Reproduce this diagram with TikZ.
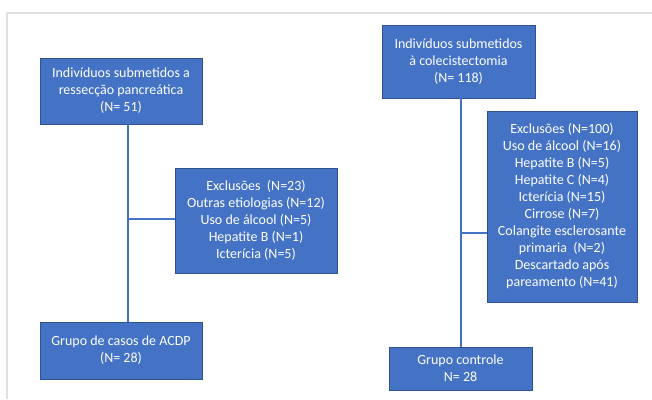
\documentclass[tikz,border=0pt]{standalone}
\usepackage{fontspec}
\setmainfont{Carlito}
\usetikzlibrary{arrows.meta}
\definecolor{boxblue}{HTML}{4472C4}
\definecolor{boxedge}{HTML}{2F528F}
\begin{document}
\begin{tikzpicture}[x=1pt,y=-1pt,
  flowbox/.style={draw=boxedge,fill=boxblue,text=white,align=center,
    inner sep=0pt,font=\fontsize{14}{17}\selectfont},
  link/.style={draw=boxblue,line width=2.4pt}]
 \useasboundingbox (0,0) rectangle (652,399);
 \draw[black!12,line width=2pt] (7,399) -- (7,13) -- (652,13);
 % left branch
 \node[flowbox,minimum width=162pt,minimum height=66pt] (surg) at (121,91)
   {Indivíduos submetidos a\\ressecção pancreática\\(N= 51)};
 \node[flowbox,minimum width=162pt,minimum height=105pt] (exclL) at (256,220.5)
   {Exclusões\ \ (N=23)\\Outras etiologias (N=12)\\Uso de álcool (N=5)\\Hepatite B (N=1)\\Icterícia (N=5)};
 \node[flowbox,minimum width=162pt,minimum height=57pt] (cases) at (121,350.5)
   {Grupo de casos de ACDP\\(N= 28)};
 % right branch
 \node[flowbox,minimum width=153pt,minimum height=73pt] (chol) at (458.5,61.5)
   {Indivíduos submetidos\\à colecistectomia\\(N= 118)};
 \node[flowbox,minimum width=150pt,minimum height=191pt] (exclR) at (562,206.5)
   {Exclusões (N=100)\\Uso de álcool (N=16)\\Hepatite B (N=5)\\Hepatite C (N=4)\\Icterícia (N=15)\\Cirrose (N=7)\\Colangite esclerosante\\primaria\ \ (N=2)\\Descartado após\\pareamento (N=41)};
 \node[flowbox,minimum width=143pt,minimum height=43pt] (ctrl) at (460.5,368.5)
   {Grupo controle\\N= 28};
 \coordinate (spineL) at (128,219);
 \coordinate (spineR) at (461,233);
 \draw[link] (surg.south -| spineL) -- (cases.north -| spineL);
 \draw[link] (spineL) -- (spineL -| exclL.west);
 \draw[link] (chol.south -| spineR) -- (ctrl.north -| spineR);
 \draw[link] (spineR) -- (spineR -| exclR.west);
\end{tikzpicture}
\end{document}
